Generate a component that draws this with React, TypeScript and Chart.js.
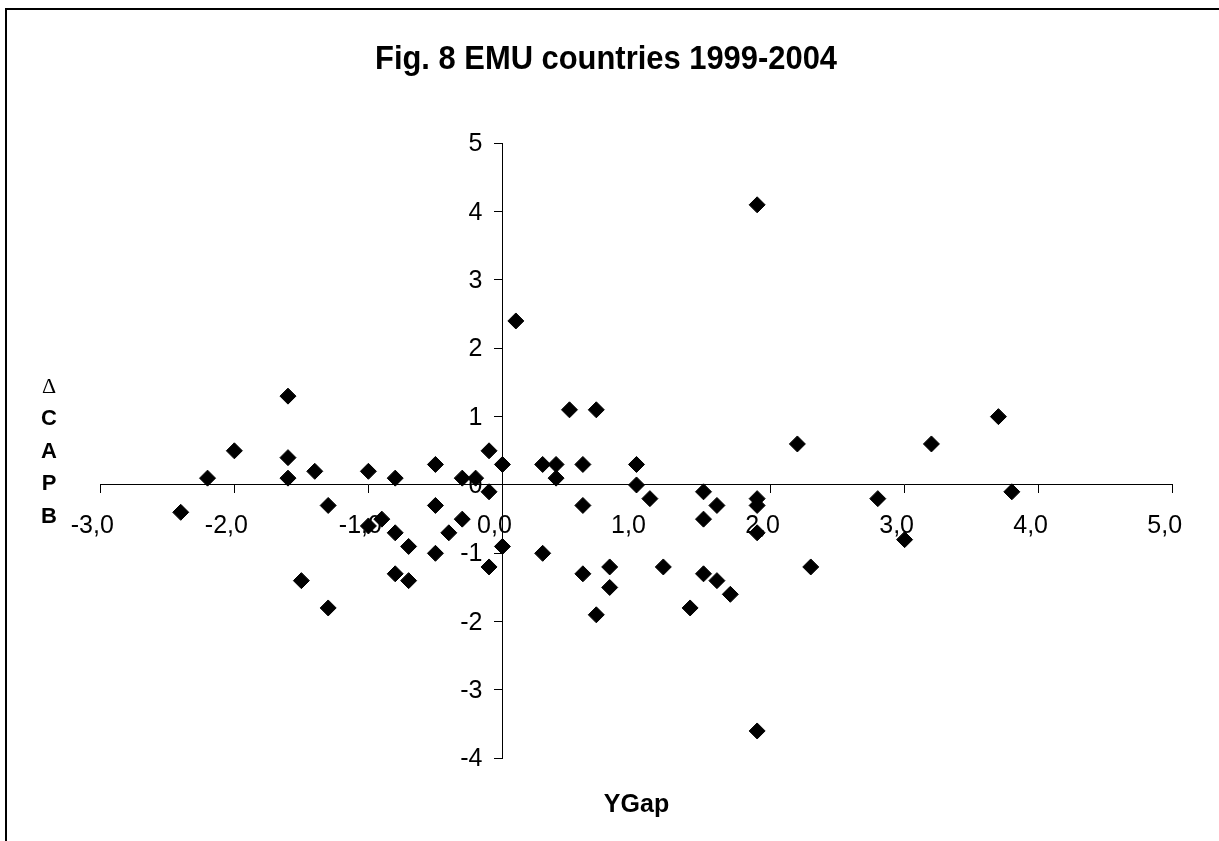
import React, { useEffect, useRef } from 'react';
import { Chart, registerables } from 'chart.js';

Chart.register(...registerables);

const TITLE = 'Fig. 8 EMU countries 1999-2004';
const X_TITLE = 'YGap';
const Y_TITLE_LETTERS = ['Δ', 'C', 'A', 'P', 'B'];

const X_MIN = -3;
const X_MAX = 5;
const Y_MIN = -4;
const Y_MAX = 5;

// Output gap (x) values
const yGap = [
  -2.4, -2.2, -2.0, -1.6, -1.6, -1.6, -1.5, -1.4, -1.3, -1.3,
  -1.0, -1.0, -0.9, -0.8, -0.8, -0.8, -0.7, -0.7, -0.5, -0.5,
  -0.5, -0.4, -0.3, -0.3, -0.2, -0.1, -0.1, -0.1, 0.0, 0.0,
  0.1, 0.3, 0.3, 0.4, 0.4, 0.5, 0.6, 0.6, 0.6, 0.7,
  0.7, 0.8, 0.8, 1.0, 1.0, 1.1, 1.2, 1.4, 1.5, 1.5,
  1.5, 1.6, 1.6, 1.7, 1.9, 1.9, 1.9, 1.9, 1.9, 2.2,
  2.3, 2.8, 3.0, 3.2, 3.7, 3.8,
];

// Change in cyclically adjusted primary balance (y) values
const dCAPB = [
  -0.4, 0.1, 0.5, 1.3, 0.4, 0.1, -1.4, 0.2, -0.3, -1.8,
  0.2, -0.6, -0.5, 0.1, -0.7, -1.3, -0.9, -1.4, 0.3, -0.3,
  -1.0, -0.7, 0.1, -0.5, 0.1, 0.5, -0.1, -1.2, 0.3, -0.9,
  2.4, 0.3, -1.0, 0.3, 0.1, 1.1, 0.3, -0.3, -1.3, 1.1,
  -1.9, -1.2, -1.5, 0.3, 0.0, -0.2, -1.2, -1.8, -0.1, -0.5,
  -1.3, -0.3, -1.4, -1.6, 4.1, -0.2, -0.3, -0.7, -3.6, 0.6,
  -1.2, -0.2, -0.8, 0.6, 1.0, -0.1,
];

const points = yGap.map((x, i) => ({ x, y: dCAPB[i] }));

const SANS = '"Liberation Sans", Arial, sans-serif';

// Y tick labels drawn left of the centred axis (Chart.js places them on the axis line)
const yLabelsPlugin = {
  id: 'yLabels',
  beforeDatasetsDraw(chart: any) {
    const { ctx, scales } = chart;
    const xs = scales.x;
    const ys = scales.y;
    const axisX = xs.getPixelForValue(0);
    ctx.save();
    ctx.fillStyle = '#000';
    ctx.textAlign = 'right';
    ctx.textBaseline = 'middle';
    ctx.font = `25px ${SANS}`;
    ys.ticks.forEach((t: any) => {
      ctx.fillText(String(t.value), axisX - 20, ys.getPixelForValue(t.value) + 1);
    });
    ctx.restore();
  },
};

const textPlugin = {
  id: 'chartTexts',
  afterDraw(chart: any) {
    const { ctx, chartArea } = chart;
    ctx.save();
    ctx.fillStyle = '#000';
    ctx.textAlign = 'center';
    ctx.textBaseline = 'middle';
    // Title: slightly condensed bold, as in the original rendering
    ctx.font = `bold 34px ${SANS}`;
    const w = ctx.measureText(TITLE).width;
    const sx = Math.min(1, 462 / w);
    ctx.save();
    ctx.translate(606, 60);
    ctx.scale(sx, 1);
    ctx.fillText(TITLE, 0, 0);
    ctx.restore();

    ctx.font = `bold 25px ${SANS}`;
    ctx.fillText(X_TITLE, (chartArea.left + chartArea.right) / 2, chartArea.bottom + 47);
    const midY = (chartArea.top + chartArea.bottom) / 2;
    const step = 32.5;
    Y_TITLE_LETTERS.forEach((ch, i) => {
      ctx.font = i === 0
        ? '22px "Liberation Serif", "DejaVu Serif", serif'
        : `bold 22px ${SANS}`;
      ctx.fillText(ch, 49, midY + (i - 2) * step + 1);
    });
    ctx.restore();
  },
};

export default function App() {
  const canvasRef = useRef<HTMLCanvasElement | null>(null);

  useEffect(() => {
    if (!canvasRef.current) return;
    const chart = new Chart(canvasRef.current, {
      type: 'scatter',
      data: {
        datasets: [
          {
            label: 'ΔCAPB vs YGap',
            data: points,
            pointStyle: 'rectRot',
            pointRadius: 8,
            pointHoverRadius: 8,
            backgroundColor: '#000',
            borderColor: '#000',
            borderWidth: 1,
          },
        ],
      },
      options: {
        animation: false,
        responsive: false,
        devicePixelRatio: 1,
        layout: {
          padding: { left: 100.3, right: 46.3, top: 143.3, bottom: 82.7 },
        },
        plugins: {
          legend: { display: false },
          tooltip: { enabled: false },
          title: { display: false },
        },
        scales: {
          x: {
            type: 'linear',
            position: { y: 0 } as any,
            min: X_MIN,
            max: X_MAX,
            ticks: {
              stepSize: 1,
              color: '#000',
              padding: 18,
              labelOffset: -8,
              font: { family: SANS, size: 25 },
              callback: (v: any) => Number(v).toFixed(1).replace('.', ','),
            },
            grid: {
              drawOnChartArea: false,
              drawTicks: true,
              tickLength: 8,
              color: '#000',
            },
            border: { color: '#000', width: 1 },
          },
          y: {
            type: 'linear',
            position: { x: 0 } as any,
            min: Y_MIN,
            max: Y_MAX,
            ticks: {
              stepSize: 1,
              display: false,
              font: { family: SANS, size: 25 },
            },
            grid: {
              drawOnChartArea: false,
              drawTicks: true,
              tickLength: 8,
              color: '#000',
            },
            border: { color: '#000', width: 1 },
          },
        },
      },
      plugins: [yLabelsPlugin, textPlugin],
    });
    return () => chart.destroy();
  }, []);

  return (
    <div
      style={{
        position: 'fixed',
        left: 0,
        top: 0,
        width: 1219,
        height: 841,
        background: '#fff',
        overflow: 'hidden',
      }}
    >
      <canvas ref={canvasRef} width={1219} height={841} style={{ display: 'block' }} />
      <div
        style={{
          position: 'absolute',
          left: 5,
          top: 8,
          width: 1300,
          height: 900,
          borderLeft: '2px solid #000',
          borderTop: '2px solid #000',
          pointerEvents: 'none',
        }}
      />
    </div>
  );
}
